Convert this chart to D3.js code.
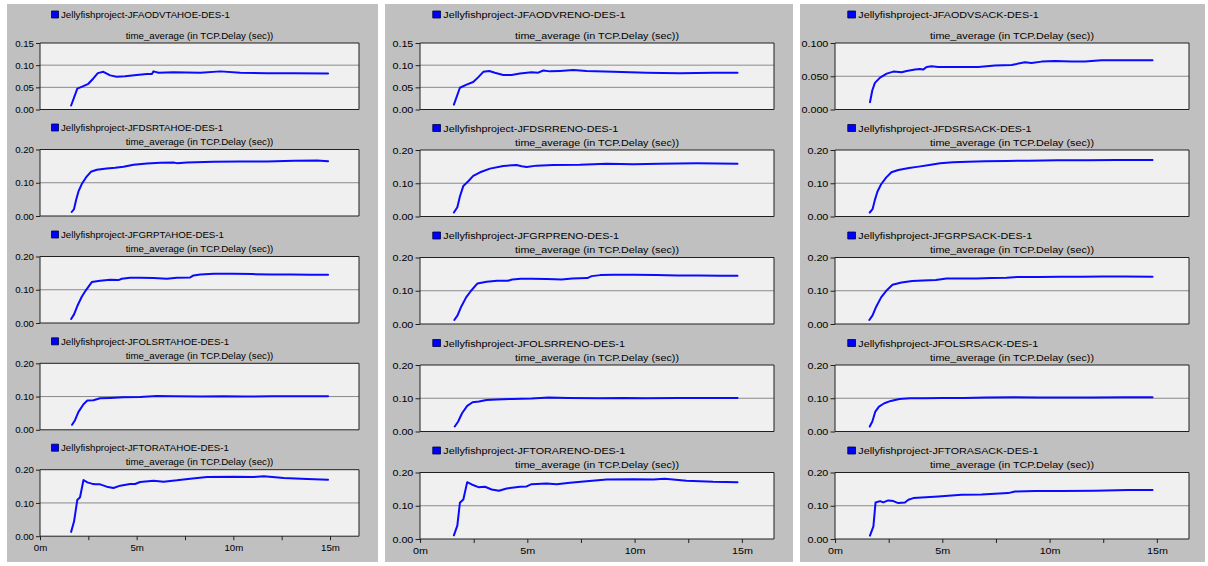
<!DOCTYPE html>
<html><head><meta charset="utf-8">
<script src="https://cdn.jsdelivr.net/npm/d3@7"></script>
<style>
html,body{margin:0;padding:0;background:#fff;}
svg{display:block;}
text{font-family:"Liberation Sans",Arial,sans-serif;}
</style></head><body>
<svg id="c" width="1208" height="566"></svg>
<script>
// ---------- data (time in minutes, value in seconds) ----------
const xMajorTicks = [0, 5, 10, 15];
const xMajorLabels = ["0m", "5m", "10m", "15m"];
const xMinorTicks = [2.5, 7.5, 12.5];
const yTicksA = [0, 0.05, 0.10, 0.15];
const yLabelsA = ["0.00", "0.05", "0.10", "0.15"];
const yTicksB = [0, 0.05, 0.10];
const yLabelsB = ["0.000", "0.050", "0.100"];
const yTicksC = [0, 0.10, 0.20];
const yLabelsC = ["0.00", "0.10", "0.20"];
const chartTitle = "time_average (in TCP.Delay (sec))";

const namesTahoe = ["Jellyfishproject-JFAODVTAHOE-DES-1","Jellyfishproject-JFDSRTAHOE-DES-1","Jellyfishproject-JFGRPTAHOE-DES-1","Jellyfishproject-JFOLSRTAHOE-DES-1","Jellyfishproject-JFTORATAHOE-DES-1"];
const namesReno = ["Jellyfishproject-JFAODVRENO-DES-1","Jellyfishproject-JFDSRRENO-DES-1","Jellyfishproject-JFGRPRENO-DES-1","Jellyfishproject-JFOLSRRENO-DES-1","Jellyfishproject-JFTORARENO-DES-1"];
const namesSack = ["Jellyfishproject-JFAODVSACK-DES-1","Jellyfishproject-JFDSRSACK-DES-1","Jellyfishproject-JFGRPSACK-DES-1","Jellyfishproject-JFOLSRSACK-DES-1","Jellyfishproject-JFTORASACK-DES-1"];

const aodvTahoe = [[1.61,0.009],[1.93,0.047],[2.21,0.052],[2.5,0.058],[2.76,0.070],[2.99,0.082],[3.28,0.085],[3.63,0.077],[3.97,0.074],[4.4,0.075],[5.0,0.078],[5.53,0.080],[5.79,0.080],[5.87,0.086],[6.13,0.083],[6.9,0.084],[8.29,0.083],[9.33,0.086],[10.36,0.083],[11.74,0.082],[13.13,0.082],[14.9,0.081]];
const dsrTahoe = [[1.64,0.012],[1.76,0.021],[1.87,0.049],[1.99,0.074],[2.16,0.096],[2.38,0.116],[2.63,0.133],[2.94,0.139],[3.45,0.143],[3.89,0.145],[4.32,0.148],[4.84,0.154],[5.53,0.158],[6.22,0.160],[6.9,0.161],[7.08,0.159],[7.6,0.161],[8.98,0.163],[10.36,0.164],[11.74,0.164],[13.13,0.166],[14.34,0.167],[14.9,0.165]];
const grpTahoe = [[1.61,0.012],[1.76,0.026],[1.93,0.051],[2.16,0.079],[2.38,0.099],[2.68,0.123],[3.11,0.127],[3.63,0.130],[4.06,0.129],[4.23,0.133],[4.66,0.136],[5.18,0.136],[5.87,0.135],[6.56,0.133],[7.08,0.136],[7.77,0.137],[7.94,0.143],[8.29,0.146],[9.0,0.148],[10.0,0.148],[11.0,0.147],[12.0,0.146],[13.0,0.146],[14.0,0.145],[14.9,0.145]];
const olsrTahoe = [[1.66,0.015],[1.81,0.029],[1.99,0.054],[2.25,0.077],[2.45,0.088],[2.76,0.089],[3.11,0.095],[3.63,0.096],[4.32,0.098],[5.18,0.099],[6.04,0.102],[6.9,0.101],[8.29,0.100],[9.5,0.101],[10.5,0.100],[12.0,0.101],[13.5,0.101],[14.9,0.101]];
const toraTahoe = [[1.61,0.013],[1.76,0.044],[1.93,0.109],[2.07,0.117],[2.25,0.169],[2.45,0.162],[2.68,0.158],[2.85,0.156],[3.11,0.156],[3.45,0.149],[3.8,0.145],[4.15,0.152],[4.66,0.157],[4.92,0.157],[5.18,0.163],[5.87,0.167],[6.39,0.164],[7.08,0.168],[7.77,0.173],[8.64,0.178],[10.02,0.179],[11.05,0.178],[11.57,0.180],[12.61,0.175],[13.82,0.172],[14.9,0.170]];

const aodvReno = [[1.58,0.011],[1.86,0.049],[2.17,0.056],[2.48,0.062],[2.72,0.073],[2.95,0.085],[3.23,0.087],[3.49,0.083],[3.88,0.078],[4.27,0.078],[4.66,0.081],[5.2,0.084],[5.51,0.083],[5.75,0.088],[6.06,0.086],[6.52,0.087],[7.14,0.089],[7.76,0.087],[9.01,0.085],[10.56,0.083],[12.11,0.082],[13.66,0.083],[14.8,0.083]];
const dsrReno = [[1.58,0.012],[1.74,0.028],[1.86,0.060],[2.02,0.092],[2.25,0.106],[2.48,0.122],[2.8,0.133],[3.26,0.144],[3.88,0.152],[4.5,0.155],[4.74,0.151],[4.97,0.149],[5.43,0.153],[6.21,0.155],[7.45,0.156],[8.7,0.159],[9.94,0.157],[11.18,0.159],[12.89,0.160],[14.8,0.159]];
const grpReno = [[1.6,0.012],[1.75,0.026],[1.92,0.052],[2.15,0.080],[2.38,0.100],[2.68,0.122],[3.1,0.127],[3.6,0.130],[4.1,0.130],[4.3,0.134],[4.7,0.136],[5.2,0.136],[5.9,0.135],[6.6,0.134],[7.1,0.137],[7.8,0.138],[8.0,0.144],[8.4,0.147],[9.0,0.148],[10.0,0.148],[11.0,0.147],[12.0,0.146],[13.0,0.146],[14.0,0.145],[14.8,0.145]];
const olsrReno = [[1.62,0.015],[1.78,0.030],[1.96,0.055],[2.2,0.077],[2.45,0.088],[2.75,0.090],[3.1,0.095],[3.6,0.096],[4.3,0.098],[5.2,0.099],[6.0,0.102],[6.9,0.101],[8.3,0.100],[9.5,0.101],[10.5,0.100],[12.0,0.101],[13.5,0.101],[14.8,0.101]];
const toraReno = [[1.58,0.011],[1.74,0.040],[1.86,0.109],[2.02,0.119],[2.2,0.171],[2.41,0.164],[2.72,0.156],[3.03,0.157],[3.34,0.149],[3.68,0.145],[4.04,0.152],[4.66,0.157],[4.97,0.158],[5.2,0.165],[5.9,0.167],[6.37,0.165],[6.99,0.169],[7.76,0.174],[8.7,0.179],[9.94,0.180],[10.87,0.179],[11.41,0.181],[12.42,0.175],[13.66,0.172],[14.8,0.171]];

const aodvSack = [[1.63,0.011],[1.74,0.029],[1.86,0.040],[2.1,0.048],[2.41,0.054],[2.72,0.057],[3.11,0.056],[3.34,0.058],[3.73,0.060],[3.96,0.061],[4.11,0.060],[4.27,0.064],[4.5,0.065],[4.81,0.064],[5.9,0.064],[6.68,0.064],[7.45,0.066],[8.23,0.067],[8.85,0.071],[9.16,0.070],[9.63,0.072],[10.25,0.073],[11.02,0.072],[11.65,0.072],[12.42,0.074],[13.35,0.074],[14.8,0.074]];
const dsrSack = [[1.62,0.012],[1.75,0.022],[1.86,0.050],[1.98,0.075],[2.15,0.097],[2.38,0.117],[2.63,0.133],[2.95,0.140],[3.45,0.146],[3.9,0.150],[4.4,0.155],[4.9,0.160],[5.5,0.163],[6.2,0.165],[7.0,0.166],[8.0,0.167],[9.0,0.168],[10.4,0.169],[11.8,0.169],[13.1,0.170],[14.8,0.170]];
const grpSack = [[1.6,0.012],[1.75,0.026],[1.92,0.052],[2.15,0.080],[2.38,0.099],[2.68,0.118],[3.1,0.125],[3.6,0.129],[4.1,0.131],[4.7,0.132],[5.2,0.137],[5.9,0.137],[6.6,0.137],[7.3,0.138],[8.0,0.139],[8.5,0.141],[9.5,0.141],[10.5,0.142],[11.5,0.142],[12.5,0.143],[13.5,0.143],[14.8,0.142]];
const olsrSack = [[1.62,0.015],[1.74,0.030],[1.88,0.060],[2.05,0.075],[2.3,0.085],[2.6,0.092],[3.0,0.098],[3.5,0.100],[4.2,0.100],[5.0,0.101],[6.0,0.101],[7.0,0.102],[8.3,0.103],[9.5,0.102],[10.5,0.102],[12.0,0.102],[13.5,0.103],[14.8,0.103]];
const toraSack = [[1.63,0.010],[1.79,0.038],[1.89,0.110],[2.1,0.114],[2.25,0.110],[2.48,0.116],[2.72,0.114],[2.95,0.108],[3.26,0.110],[3.42,0.118],[3.65,0.123],[4.04,0.125],[4.81,0.128],[5.9,0.133],[6.83,0.134],[8.07,0.138],[8.39,0.143],[9.32,0.144],[10.56,0.144],[12.11,0.145],[13.66,0.147],[14.8,0.147]];

// ---------- layout ----------
const xDomainMax = 16.5;
const baseW = 319, baseH = 66.5;
const panelDefs = [
  {bg:[7,4,371,558], left:40, sx:1.0, tops:[43,149.5,256.5,363.3,469.7],
   names:namesTahoe, data:[aodvTahoe,dsrTahoe,grpTahoe,olsrTahoe,toraTahoe], firstTicks:[yTicksA,yLabelsA]},
  {bg:[385,4,408,558], left:420, sx:354/319, tops:[43,150,257.5,365,472.5],
   names:namesReno, data:[aodvReno,dsrReno,grpReno,olsrReno,toraReno], firstTicks:[yTicksA,yLabelsA]},
  {bg:[800,4,405,558], left:835, sx:354/319, tops:[43,150,257.5,365,472.5],
   names:namesSack, data:[aodvSack,dsrSack,grpSack,olsrSack,toraSack], firstTicks:[yTicksB,yLabelsB]}
];

const svg = d3.select("#c");
const x = d3.scaleLinear().domain([0, xDomainMax]).range([0, baseW]);

panelDefs.forEach(p => {
  svg.append("rect").attr("x",p.bg[0]).attr("y",p.bg[1]).attr("width",p.bg[2]).attr("height",p.bg[3]).attr("fill","#c0c0c0");
  p.tops.forEach((top, i) => {
    const ticks = i === 0 ? p.firstTicks : [yTicksC, yLabelsC];
    const yMax = ticks[0][ticks[0].length-1];
    const y = d3.scaleLinear().domain([0, yMax]).range([baseH, 0]);
    const g = svg.append("g").attr("transform", `translate(${p.left},${top}) scale(${p.sx},1)`);
    g.append("rect").attr("width",baseW).attr("height",baseH).attr("fill","#f0f0f0");
    // gridlines
    g.selectAll("line.grid").data(ticks[0].slice(1, -1)).enter().append("line")
      .attr("x1",0).attr("x2",baseW).attr("y1",d=>y(d)).attr("y2",d=>y(d))
      .attr("stroke","#8a8a8a").attr("stroke-width",1).attr("vector-effect","non-scaling-stroke");
    // frame
    g.append("rect").attr("width",baseW).attr("height",baseH).attr("fill","none")
      .attr("stroke","#202020").attr("stroke-width",1).attr("vector-effect","non-scaling-stroke");
    // y axis
    const ya = g.append("g").call(d3.axisLeft(y).tickValues(ticks[0]).tickFormat((d,k)=>ticks[1][k]).tickSize(4).tickSizeOuter(0).tickPadding(2));
    ya.select(".domain").remove();
    ya.selectAll("line").attr("stroke","#202020").attr("vector-effect","non-scaling-stroke");
    ya.selectAll("text").attr("font-size","9.7px").attr("fill","#000").attr("font-family","Liberation Sans, Arial, sans-serif");
    // x axis only on last
    if (i === 4) {
      const xa = g.append("g").attr("transform",`translate(0,${baseH})`)
        .call(d3.axisBottom(x).tickValues(xMajorTicks).tickFormat((d,k)=>xMajorLabels[k]).tickSize(4).tickSizeOuter(0).tickPadding(4));
      xa.select(".domain").remove();
      xa.selectAll("line").attr("stroke","#202020").attr("vector-effect","non-scaling-stroke");
      xa.selectAll("text").attr("font-size","9.7px").attr("fill","#000").attr("font-family","Liberation Sans, Arial, sans-serif");
      const xm = g.append("g").attr("transform",`translate(0,${baseH})`)
        .call(d3.axisBottom(x).tickValues(xMinorTicks).tickFormat("").tickSize(4).tickSizeOuter(0));
      xm.select(".domain").remove();
      xm.selectAll("line").attr("stroke","#202020").attr("vector-effect","non-scaling-stroke");
    }
    // line
    const line = d3.line().x(d=>x(d[0])).y(d=>y(d[1])).curve(d3.curveLinear);
    g.append("path").datum(p.data[i]).attr("d",line).attr("fill","none")
      .attr("stroke","#0a0aff").attr("stroke-width",2).attr("stroke-linejoin","round").attr("stroke-linecap","round")
      .attr("vector-effect","non-scaling-stroke");
    // title
    g.append("text").attr("x",baseW/2).attr("y",-4.5).attr("text-anchor","middle")
      .attr("font-size","9.7px").attr("fill","#000").text(chartTitle);
    // legend
    const ly = i === 0 ? -28.5 : -22;
    g.append("rect").attr("x",11.5).attr("y",ly-3.5).attr("width",7).attr("height",7)
      .attr("fill","#0000ff").attr("stroke","#000040").attr("stroke-width",0.8).attr("vector-effect","non-scaling-stroke");
    g.append("text").attr("x",21).attr("y",ly+3.5).attr("font-size","9.7px").attr("fill","#000").text(p.names[i]);
  });
});
</script>
</body></html>
